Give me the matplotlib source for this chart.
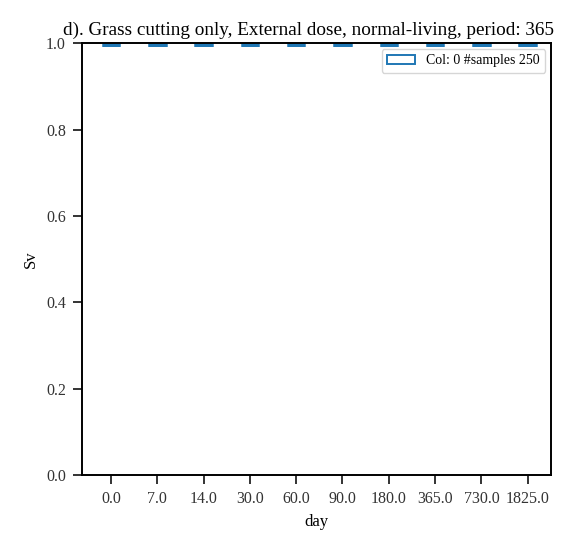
import matplotlib
matplotlib.use("Agg")
import matplotlib.pyplot as plt
import matplotlib.patches as mpatches

plt.rcParams["font.family"] = ["Liberation Serif", "DejaVu Serif"]

days = ["0.0", "7.0", "14.0", "30.0", "60.0", "90.0", "180.0", "365.0", "730.0", "1825.0"]
q1 = [1.0, 1.0, 1.0, 1.0, 1.0, 1.0, 1.0, 1.0, 1.0, 1.0]
med = [1.0, 1.0, 1.0, 1.0, 1.0, 1.0, 1.0, 1.0, 1.0, 1.0]
q3 = [1.0, 1.0, 1.0, 1.0, 1.0, 1.0, 1.0, 1.0, 1.0, 1.0]
whislo = [1.0, 1.0, 1.0, 1.0, 1.0, 1.0, 1.0, 1.0, 1.0, 1.0]
whishi = [1.0, 1.0, 1.0, 1.0, 1.0, 1.0, 1.0, 1.0, 1.0, 1.0]
n_samples = 250
BLUE = "#1f77b4"

stats = [dict(q1=a, med=m, q3=b, whislo=lo, whishi=hi, fliers=[], label=d)
         for a, m, b, lo, hi, d in zip(q1, med, q3, whislo, whishi, days)]

fig = plt.figure(figsize=(5.72, 5.34), dpi=100)
ax = fig.add_axes([0.143, 0.110, 0.820, 0.809])
lw = 5
ax.bxp(stats, widths=0.4, patch_artist=True, showfliers=False,
       boxprops=dict(facecolor="white", edgecolor=BLUE, linewidth=lw),
       medianprops=dict(color=BLUE, linewidth=lw),
       whiskerprops=dict(color=BLUE, linewidth=lw),
       capprops=dict(color=BLUE, linewidth=lw))
ax.set_ylim(0, 1.0)
ax.set_xlim(0.37, 10.5)
for s in ax.spines.values():
    s.set_linewidth(1.4)
ax.tick_params(labelsize=11.5, length=6.5, width=1.4, pad=5, colors="#333333",
               labelcolor="#333333")
ax.set_xlabel("day", fontsize=12, labelpad=5)
ax.set_ylabel("Sv", fontsize=12, labelpad=5)
ax.set_title("d). Grass cutting only, External dose, normal-living, period: 365",
             fontsize=13.8, pad=6, x=0.484)
handle = mpatches.Patch(facecolor="white", edgecolor=BLUE, linewidth=1.4)
ax.legend([handle], [f"Col: 0 #samples {n_samples}"], loc="upper right",
          fontsize=10, borderaxespad=0.4)

fig.savefig("out.png", dpi=100)
